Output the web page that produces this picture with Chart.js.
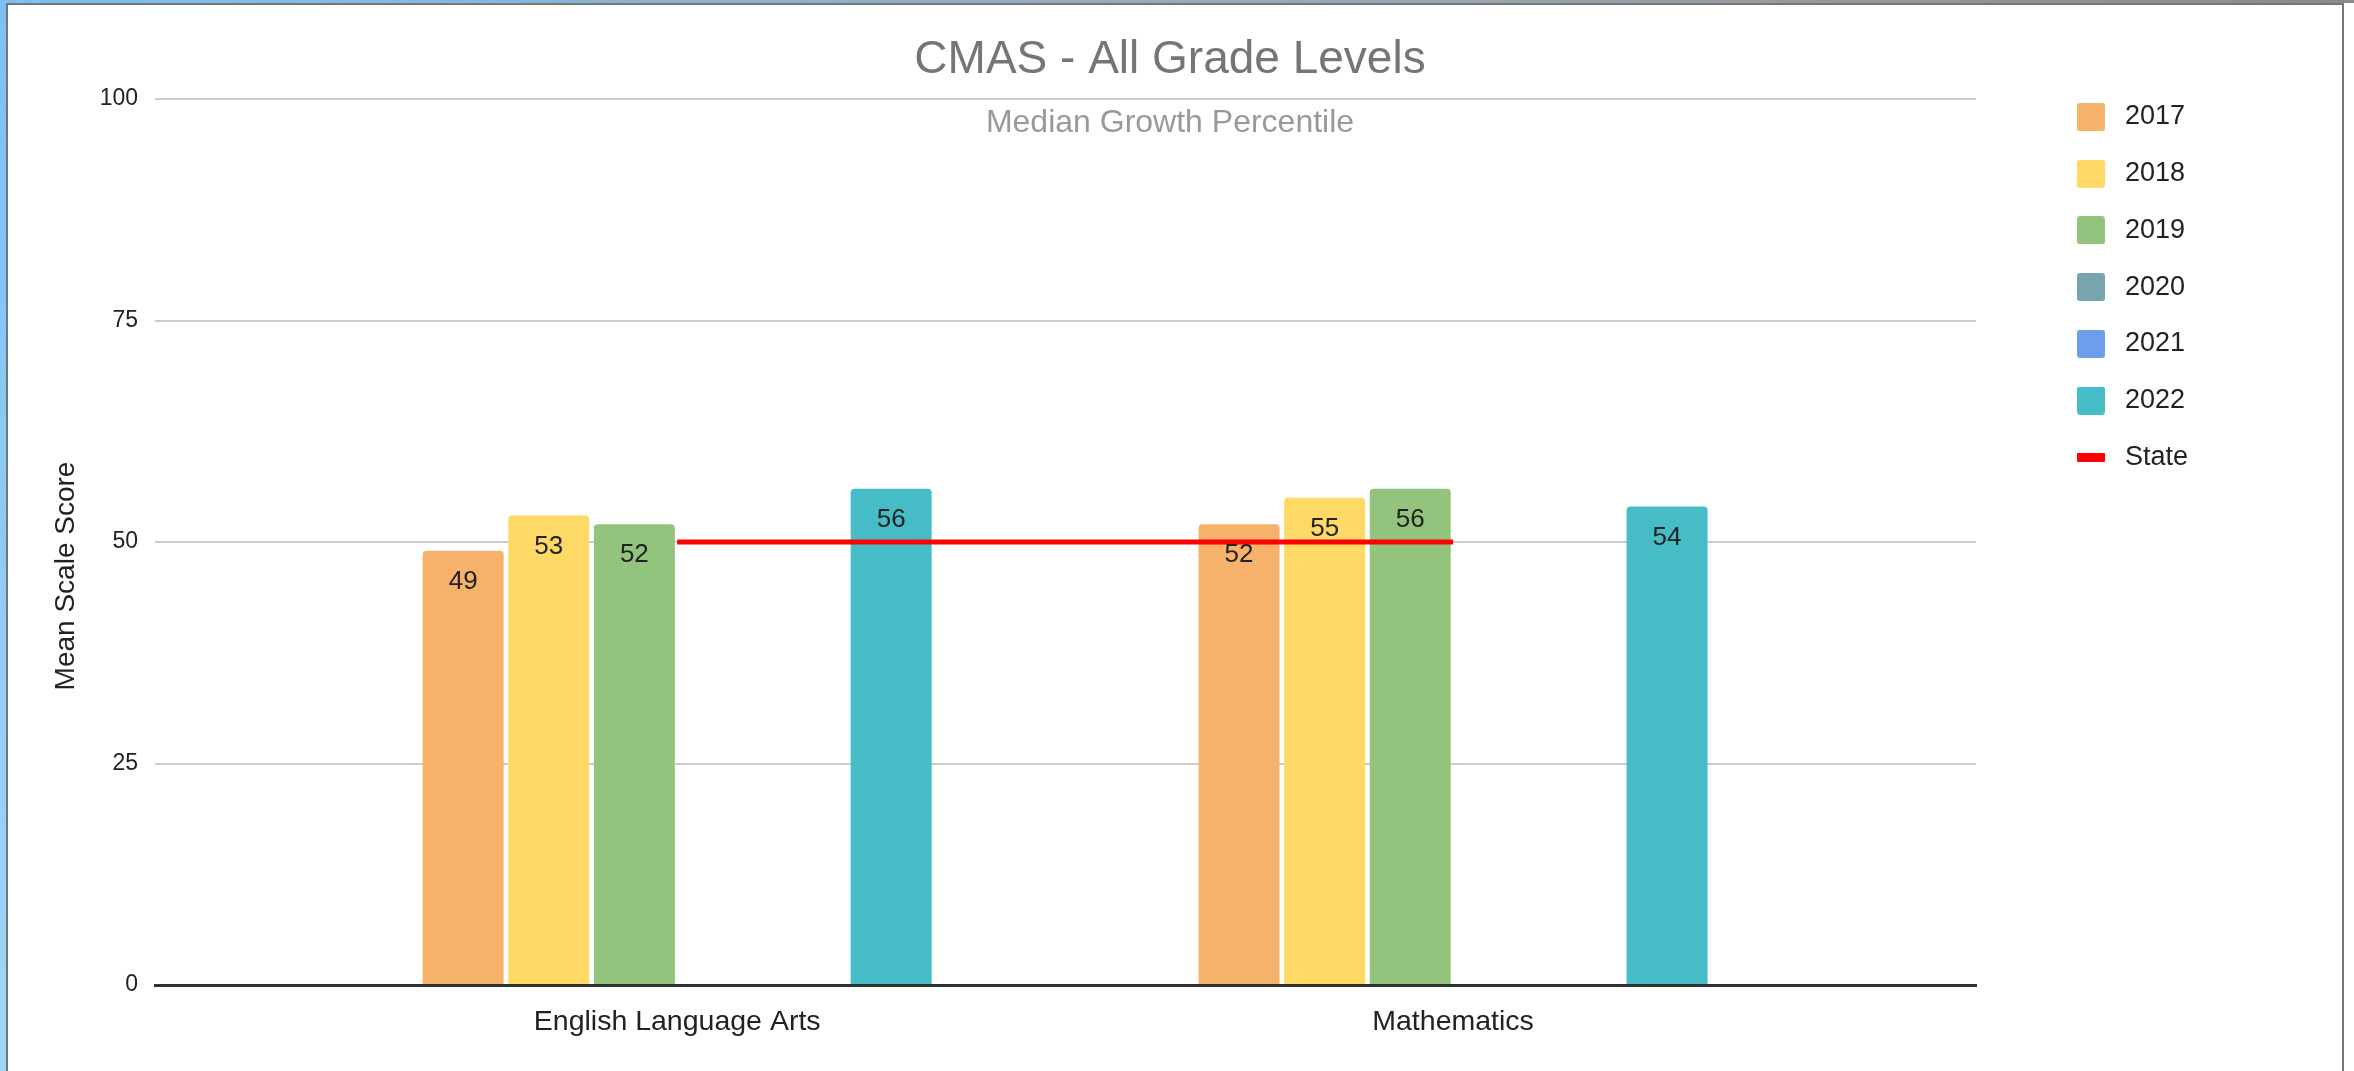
<!DOCTYPE html>
<html>
<head>
<meta charset="utf-8">
<script src="https://cdn.jsdelivr.net/npm/chart.js@4.4.1/dist/chart.umd.min.js"></script>
<style>
  html, body { margin: 0; padding: 0; background: #fff; }
  #wrap { position: relative; width: 2354px; height: 1071px; overflow: hidden; }
  .edge { position: absolute; }
  #edgeLeft { left: 0; top: 0; width: 6px; height: 1071px; background: linear-gradient(#7cc0f2, #a3d5f6); }
  #edgeLeftLine { left: 6px; top: 0; width: 2px; height: 1071px; background: #6d7780; }
  #edgeTop { left: 0; top: 0; width: 2354px; height: 3px; background: linear-gradient(90deg, #7cc0f2, #9aa6b0 60%, #8a8a8a); }
  #edgeTopLine { left: 6px; top: 3px; width: 2338px; height: 2px; background: #777; }
  #edgeRight { left: 2342px; top: 3px; width: 2px; height: 1068px; background: #777; }
</style>
</head>
<body>
<div id="wrap">
  <canvas id="chart"></canvas>
  <div class="edge" id="edgeLeft"></div>
  <div class="edge" id="edgeLeftLine"></div>
  <div class="edge" id="edgeTop"></div>
  <div class="edge" id="edgeTopLine"></div>
  <div class="edge" id="edgeRight"></div>
</div>
<script>
const categories = ['English Language Arts', 'Mathematics']
const years = ['2017', '2018', '2019', '2020', '2021', '2022']
const scores2017 = [49, 52]
const scores2018 = [53, 55]
const scores2019 = [52, 56]
const scores2020 = [null, null]
const scores2021 = [null, null]
const scores2022 = [56, 54]
const stateScores = [50, 50]
const yTicks = [0, 25, 50, 75, 100]

const titleText = 'CMAS - All Grade Levels'
const subtitleText = 'Median Growth Percentile'
const yTitleText = 'Mean Scale Score'
const yearColors = ['#f6b26b', '#ffd966', '#93c47d', '#76a5af', '#6d9eeb', '#46bdc6']
const stateColor = '#ff0000'
const family = '"Liberation Sans", Arial, sans-serif'

Chart.defaults.font.family = family

const toPoints = values => values.map((v, i) => ({x: i, y: v}))

// little canvases used as legend markers
swatch = (color, w, h, r) => {
    const c = document.createElement('canvas')
    c.width = w
    c.height = h
    const g = c.getContext('2d')
    g.fillStyle = color
    g.beginPath()
    g.roundRect(0, 0, w, h, r)
    g.fill()
    return c
}

const yearSeries = [scores2017, scores2018, scores2019, scores2020, scores2021, scores2022]
const barSets = yearSeries.map((values, i) => ({
    type: 'bar',
    label: years[i],
    data: toPoints(values),
    backgroundColor: yearColors[i],
    borderRadius: 4,
    barPercentage: 0.946,
    categoryPercentage: 0.662,
    order: 1
}))
const markers = yearColors.map(c => swatch(c, 28, 28, 3))
markers.push(swatch(stateColor, 28, 9, 1))

const lineSet = {
    type: 'line',
    label: 'State',
    data: toPoints(stateScores),
    borderColor: stateColor,
    backgroundColor: stateColor,
    borderWidth: 5,
    pointRadius: 0,
    order: 0
}

const decorations = {
    id: 'decorations',
    afterLayout(chart) {
        // legend sits a bit away from the plot, as in the sheet export
        const lg = chart.legend
        lg.left = 2070.5 - 29.7
        lg.right = lg.left + 300
        lg.top = 117 - 13.5 - 29.7
        lg.bottom = lg.top + 500
        lg.width = 300
        lg.height = 500
    },
    afterDatasetsDraw(chart) {
        const ctx = chart.ctx
        ctx.save()
        ctx.font = '26px ' + family
        ctx.textAlign = 'center'
        ctx.textBaseline = 'middle'
        ctx.fillStyle = '#222'
        chart.data.datasets.forEach((ds, di) => {
            if (ds.type !== 'bar') return
            chart.getDatasetMeta(di).data.forEach((bar, i) => {
                const v = ds.data[i].y
                if (v == null) return
                ctx.fillText(String(v), bar.x, bar.y + 31)
            })
        })
        ctx.restore()
    },
    afterDraw(chart) {
        const ctx = chart.ctx
        ctx.save()
        ctx.textAlign = 'center'
        ctx.textBaseline = 'middle'
        ctx.fillStyle = '#757575'
        ctx.font = '46px ' + family
        ctx.fillText(titleText, 1170, 60)
        ctx.fillStyle = '#999'
        ctx.font = '32px ' + family
        ctx.fillText(subtitleText, 1170, 123)
        ctx.translate(66, 576)
        ctx.rotate(-Math.PI / 2)
        ctx.fillStyle = '#222'
        ctx.font = '28px ' + family
        ctx.fillText(yTitleText, 0, 0)
        ctx.restore()
    }
}

const canvas = document.getElementById('chart')
canvas.style.width = '2354px'
canvas.style.height = '1071px'

new Chart(canvas, {
    data: {
        datasets: [...barSets, lineSet]
    },
    options: {
        responsive: false,
        maintainAspectRatio: false,
        animation: false,
        devicePixelRatio: 1,
        events: [],
        layout: {
            padding: {top: 99, right: 228, bottom: 0, left: 0}
        },
        scales: {
            x: {
                type: 'linear',
                min: -0.673,
                max: 1.674,
                offset: false,
                bounds: 'data',
                z: 1,
                afterBuildTicks: scale => { scale.ticks = categories.map((c, i) => ({value: i})) },
                afterFit: scale => { scale.height = 86 },
                grid: {display: false},
                border: {display: true, color: '#333', width: 3},
                ticks: {
                    callback: v => categories[v] ?? '',
                    color: '#222',
                    font: {size: 28.5},
                    padding: 12,
                    maxRotation: 0
                }
            },
            y: {
                min: 0,
                max: 100,
                afterBuildTicks: scale => { scale.ticks = yTicks.map(v => ({value: v})) },
                afterFit: scale => { scale.width = 155 },
                grid: {color: '#ccc', lineWidth: 2, drawTicks: false},
                border: {display: false},
                ticks: {color: '#222', font: {size: 23}, padding: 17}
            }
        },
        plugins: {
            title: {display: false},
            tooltip: {enabled: false},
            legend: {
                position: 'right',
                align: 'start',
                maxWidth: 150,
                labels: {
                    usePointStyle: true,
                    pointStyleWidth: 41,
                    boxHeight: 27,
                    padding: 29.7,
                    color: '#222',
                    font: {size: 27},
                    sort: (a, b) => a.datasetIndex - b.datasetIndex,
                    generateLabels: chart => {
                        const items = Chart.defaults.plugins.legend.labels.generateLabels(chart)
                        items.forEach(item => { item.pointStyle = markers[item.datasetIndex] })
                        return items
                    }
                }
            }
        }
    },
    plugins: [decorations]
})
</script>
</body>
</html>
